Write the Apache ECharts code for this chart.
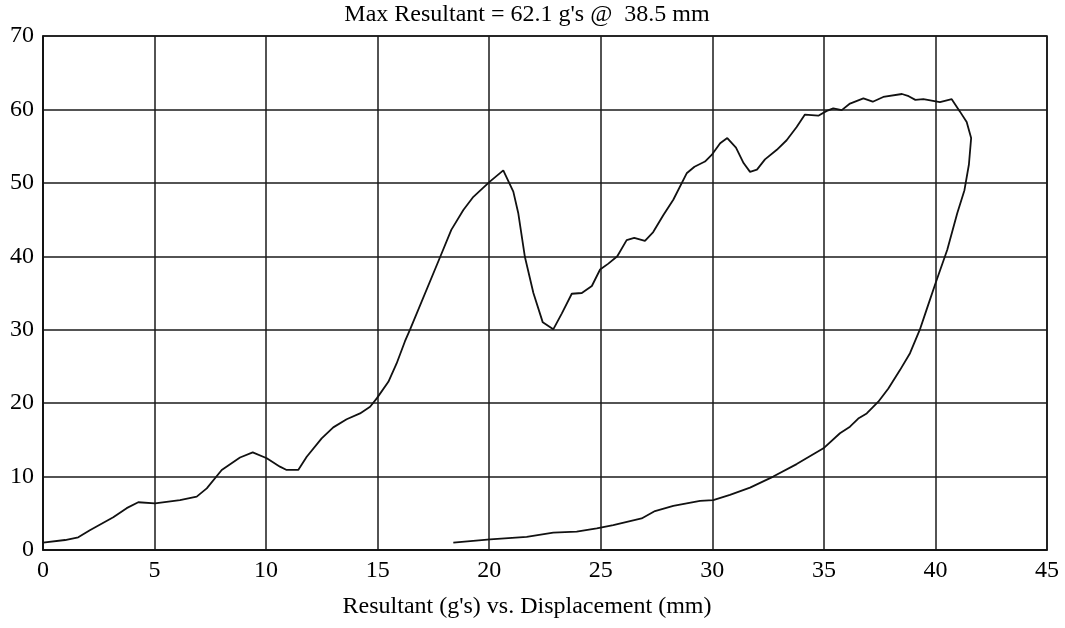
<!DOCTYPE html>
<html>
<head>
<meta charset="utf-8">
<script src="https://cdn.jsdelivr.net/npm/echarts@6/dist/echarts.min.js"></script>
<style>
html,body{margin:0;padding:0;background:#fff;}
#chart{width:1065px;height:628px;}
</style>
</head>
<body>
<div id="chart"></div>
<script>
// Loading phase (displacement mm, resultant g's)
var loadX = [0,0.99,1.58,2.1,3.15,3.75,4.27,5.02,6.14,6.89,7.34,8.01,8.83,9.4,10.03,10.62,10.92,11.44,11.82,12.49,13.01,13.61,14.21,14.66,14.96,15.48,15.85,16.22,16.45,17.8,18.3,18.84,19.29,19.7,20.04,20.63,21.08,21.3,21.6,21.98,22.4,22.87,23.25,23.7,24.15,24.6,24.97,25.34,25.74,26.16,26.5,26.98,27.35,27.8,28.25,28.85,29.2,29.67,29.97,30.35,30.67,31.06,31.4,31.69,32.0,32.36,32.89,33.33,33.78,34.15,34.75,35.13,35.42,35.8,36.17,36.77,37.19,37.66,38.5,38.8,39.1,39.46,39.83,40.2,40.73,41.1,41.4,41.6];
var loadY = [1.0,1.36,1.73,2.7,4.45,5.7,6.5,6.35,6.8,7.27,8.4,10.9,12.6,13.3,12.5,11.35,10.9,10.9,12.7,15.2,16.7,17.8,18.6,19.5,20.65,22.9,25.4,28.4,30,39.9,43.6,46.3,48.1,49.25,50.2,51.7,48.8,45.9,39.9,35,31,30.05,32.2,34.9,35.0,35.95,38.2,39.0,40.0,42.2,42.5,42.1,43.3,45.6,47.7,51.3,52.2,52.9,53.8,55.4,56.1,54.8,52.7,51.5,51.8,53.2,54.5,55.8,57.6,59.3,59.15,59.8,60.15,59.9,60.8,61.5,61.05,61.7,62.1,61.8,61.3,61.4,61.2,61.0,61.4,59.7,58.3,56.1];
// Unloading phase
var unloadX = [41.5,41.3,40.98,40.53,40.0,39.6,39.3,38.86,38.41,37.89,37.44,36.92,36.54,36.17,35.72,34.98,33.78,32.73,31.69,30.79,30.04,29.45,28.25,27.43,26.83,25.56,24.82,23.92,22.87,21.68,20.04,18.39];
var unloadY = [52.5,49.0,45.9,40.9,36.3,32.7,30.0,26.8,24.5,22.0,20.2,18.6,17.9,16.8,15.9,13.85,11.7,10.0,8.5,7.5,6.8,6.7,6.0,5.3,4.3,3.4,2.95,2.5,2.36,1.8,1.45,1.0];
var xTicks = [0,5,10,15,20,25,30,35,40,45];
var yTicks = [0,10,20,30,40,50,60,70];
var titleText = "Max Resultant = 62.1 g's @  38.5 mm";
var xTitleText = "Resultant (g's) vs. Displacement (mm)";

var pts = [];
for (var i = 0; i < loadX.length; i++) pts.push([loadX[i], loadY[i]]);
for (var j = 0; j < unloadX.length; j++) pts.push([unloadX[j], unloadY[j]]);

var FONT = "'Liberation Serif', 'Times New Roman', serif";
var chart = echarts.init(document.getElementById('chart'), null, {renderer:'canvas'});
chart.setOption({
  animation: false,
  backgroundColor: '#fff',
  grid: {left: 43, right: 18, top: 36, bottom: 78, show: true, borderColor: '#111', borderWidth: 1.6, containLabel: false},
  xAxis: {
    type: 'value', min: xTicks[0], max: xTicks[xTicks.length-1], interval: 5,
    axisLine: {show: true, lineStyle: {color: '#111', width: 1.6}},
    axisTick: {show: false},
    splitLine: {show: true, lineStyle: {color: '#1a1a1a', width: 1.5}},
    axisLabel: {color: '#000', fontFamily: FONT, fontSize: 24, margin: 9}
  },
  yAxis: {
    type: 'value', min: yTicks[0], max: yTicks[yTicks.length-1], interval: 10,
    axisLine: {show: true, lineStyle: {color: '#111', width: 1.6}},
    axisTick: {show: false},
    splitLine: {show: true, lineStyle: {color: '#1a1a1a', width: 1.5}},
    axisLabel: {color: '#000', fontFamily: FONT, fontSize: 24, margin: 9}
  },
  graphic: [
    {type: 'text', x: 527, y: 15, style: {text: titleText, fill: '#000', font: "24px " + FONT, textAlign: 'center', textVerticalAlign: 'middle'}},
    {type: 'text', x: 527, y: 607, style: {text: xTitleText, fill: '#000', font: "24px " + FONT, textAlign: 'center', textVerticalAlign: 'middle'}}
  ],
  series: [{
    type: 'line', data: pts, showSymbol: false, smooth: false,
    lineStyle: {color: '#111', width: 1.8}
  }]
});
</script>
</body>
</html>
